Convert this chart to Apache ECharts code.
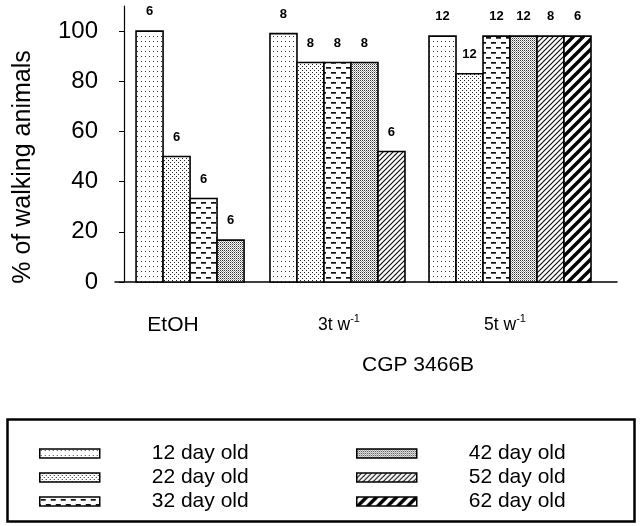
<!DOCTYPE html>
<html>
<head>
<meta charset="utf-8">
<script src="https://cdn.jsdelivr.net/npm/echarts@6/dist/echarts.min.js"></script>
<style>html,body{margin:0;padding:0;background:#fff}#c{width:640px;height:526px}</style>
</head>
<body>
<div id="c"></div>
<script>
// ---------- data ----------
const groupNames = ['EtOH', '3t w', '5t w'];
const groupSup = ['', '-1', '-1'];
const ageNames = ['12 day old', '22 day old', '32 day old', '42 day old', '52 day old', '62 day old'];
const pct12 = [100, 99, 98];
const pct22 = [50, 87.5, 83];
const pct32 = [33.3, 87.5, 98];
const pct42 = [16.7, 87.5, 98];
const pct52 = [null, 52, 98];
const pct62 = [null, null, 98];
const n12 = [6, 8, 12];
const n22 = [6, 8, 12];
const n32 = [6, 8, 12];
const n42 = [6, 8, 12];
const n52 = [null, 6, 8];
const n62 = [null, null, 6];
const yTicks = [0, 20, 40, 60, 80, 100];
const xTitle = 'CGP 3466B';
const yTitle = '% of walking animals';

const pctAll = [pct12, pct22, pct32, pct42, pct52, pct62];
const nAll = [n12, n22, n32, n42, n52, n62];

// ---------- patterns ----------
function mk(w, h, draw) {
  const c = document.createElement('canvas');
  c.width = w; c.height = h;
  const ctx = c.getContext('2d');
  ctx.fillStyle = '#fff'; ctx.fillRect(0, 0, w, h);
  draw(ctx);
  return { image: c, repeat: 'repeat' };
}
const patterns = [
  mk(4, 5, ctx => { ctx.fillStyle = '#333'; ctx.fillRect(1, 1, 1, 1); }),
  mk(4, 4, ctx => { ctx.fillStyle = '#222'; ctx.fillRect(0, 0, 1, 1); ctx.fillRect(2, 2, 1, 1); }),
  mk(10, 10, ctx => { ctx.fillStyle = '#111'; ctx.fillRect(1, 2, 5, 1.7); ctx.fillRect(6, 7, 4, 1.7); ctx.fillRect(0, 7, 1, 1.7); }),
  mk(2, 2, ctx => { ctx.fillStyle = '#333'; ctx.fillRect(0, 0, 1, 1); ctx.fillStyle = '#999'; ctx.fillRect(1, 1, 1, 1); }),
  mk(5, 5, ctx => { ctx.strokeStyle = '#111'; ctx.lineWidth = 1.2; ctx.beginPath();
    ctx.moveTo(-1, 1); ctx.lineTo(1, -1); ctx.moveTo(0, 5); ctx.lineTo(5, 0); ctx.moveTo(4, 6); ctx.lineTo(6, 4); ctx.stroke(); }),
  mk(10, 10, ctx => { ctx.strokeStyle = '#000'; ctx.lineWidth = 3.4; ctx.beginPath();
    ctx.moveTo(-2, 2); ctx.lineTo(2, -2); ctx.moveTo(0, 10); ctx.lineTo(10, 0); ctx.moveTo(8, 12); ctx.lineTo(12, 8); ctx.stroke(); })
];

// ---------- layout constants ----------
const slotPx = 27;            // bar width in px
const gridL = 115, gridR = 617, yAxisX = 124;
const groupStart = [0.78, 5.74, 11.63];  // in bar-slot units from grid left
const FONT = 'Arial, "Liberation Sans", sans-serif';

const series = ageNames.map((name, k) => ({
  type: 'custom',
  name: name,
  coordinateSystem: 'cartesian2d',
  xAxisIndex: 0, yAxisIndex: 0,
  itemStyle: { color: patterns[k], borderColor: '#000', borderWidth: 1.5 },
  encode: { x: 0, y: 1 },
  data: pctAll[k].map((v, g) => v == null ? null : [g, v, nAll[k][g]]).filter(d => d),
  renderItem: function (params, api) {
    const g = api.value(0), v = api.value(1), n = api.value(2);
    const p0 = api.coord([groupStart[g] + k, 0]);
    const p1 = api.coord([groupStart[g] + k + 1, v]);
    return {
      type: 'group',
      children: [
        { type: 'rect', shape: { x: p0[0], y: p1[1], width: p1[0] - p0[0], height: p0[1] - p1[1] },
          style: { fill: patterns[k], stroke: '#000', lineWidth: 1.6 } },
        { type: 'text', style: { text: String(n), x: (p0[0] + p1[0]) / 2, y: p1[1] - 13,
          align: 'center', verticalAlign: 'bottom', fontSize: 13, fontWeight: 'bold', fontFamily: FONT, fill: '#000' } }
      ]
    };
  }
}));

const chart = echarts.init(document.getElementById('c'), null, { renderer: 'canvas' });
chart.setOption({
  animation: false,
  backgroundColor: '#fff',
  title: { text: xTitle, left: 362, top: 355, padding: 0,
    textStyle: { fontSize: 21, fontWeight: 'normal', fontFamily: FONT, color: '#000' } },
  grid: [
    { left: gridL, right: 640 - gridR, top: 6, bottom: 244 },
    { left: 90, right: 52, top: 6, bottom: 244 }
  ],
  xAxis: [
    { type: 'value', gridIndex: 0, min: 0, max: (gridR - gridL) / slotPx,
      axisLine: { show: true, onZero: false, lineStyle: { color: '#000', width: 1.5 } },
      axisTick: { show: false }, axisLabel: { show: false }, splitLine: { show: false } },
    { type: 'category', gridIndex: 1, data: groupNames,
      axisLine: { show: false }, axisTick: { show: false }, splitLine: { show: false },
      axisLabel: { margin: 31, color: '#000', fontFamily: FONT,
        formatter: function (v, i) {
          return groupSup[i] ? '{sm|' + v + '}{sup|' + groupSup[i] + '}' : '{big|' + v + '}';
        },
        rich: {
          big: { fontSize: 21, lineHeight: 24, fontFamily: FONT, color: '#000' },
          sm: { fontSize: 17.5, lineHeight: 24, fontFamily: FONT, color: '#000' },
          sup: { fontSize: 11, lineHeight: 18, verticalAlign: 'top', fontFamily: FONT, color: '#000' }
        } } }
  ],
  yAxis: [
    { type: 'value', gridIndex: 0, min: 0, max: 110, interval: 20, offset: gridL - yAxisX,
      name: yTitle, nameLocation: 'middle', nameGap: 88,
      nameTextStyle: { fontSize: 25, fontFamily: FONT, color: '#000', padding: [0, 46, 0, 0] },
      axisLine: { show: true, onZero: false, lineStyle: { color: '#000', width: 1.2 } },
      axisTick: { show: true, length: 5, customValues: yTicks, lineStyle: { color: '#000', width: 1 } },
      axisLabel: { customValues: yTicks, margin: 26, fontSize: 24, fontFamily: FONT, color: '#000' },
      splitLine: { show: false } },
    { type: 'value', gridIndex: 1, show: false, min: 0, max: 110 }
  ],
  legend: [
    { data: ageNames.slice(0, 3), orient: 'vertical', left: 39, top: 443, padding: 0, itemGap: 3,
      itemWidth: 60, itemHeight: 9, icon: 'rect', selectedMode: false,
      itemStyle: { borderColor: '#000', borderWidth: 1.5 },
      textStyle: { fontSize: 21, fontFamily: FONT, color: '#000', padding: [0, 0, 0, 47] } },
    { data: ageNames.slice(3), orient: 'vertical', left: 356, top: 443, padding: 0, itemGap: 3,
      itemWidth: 60, itemHeight: 9, icon: 'rect', selectedMode: false,
      itemStyle: { borderColor: '#000', borderWidth: 1.5 },
      textStyle: { fontSize: 21, fontFamily: FONT, color: '#000', padding: [0, 0, 0, 47] } }
  ],
  graphic: [
    { type: 'rect', left: 5, top: 417, shape: { width: 627, height: 102 },
      style: { fill: 'none', stroke: '#000', lineWidth: 2.5 } }
  ],
  series: series
});
</script>
</body>
</html>
